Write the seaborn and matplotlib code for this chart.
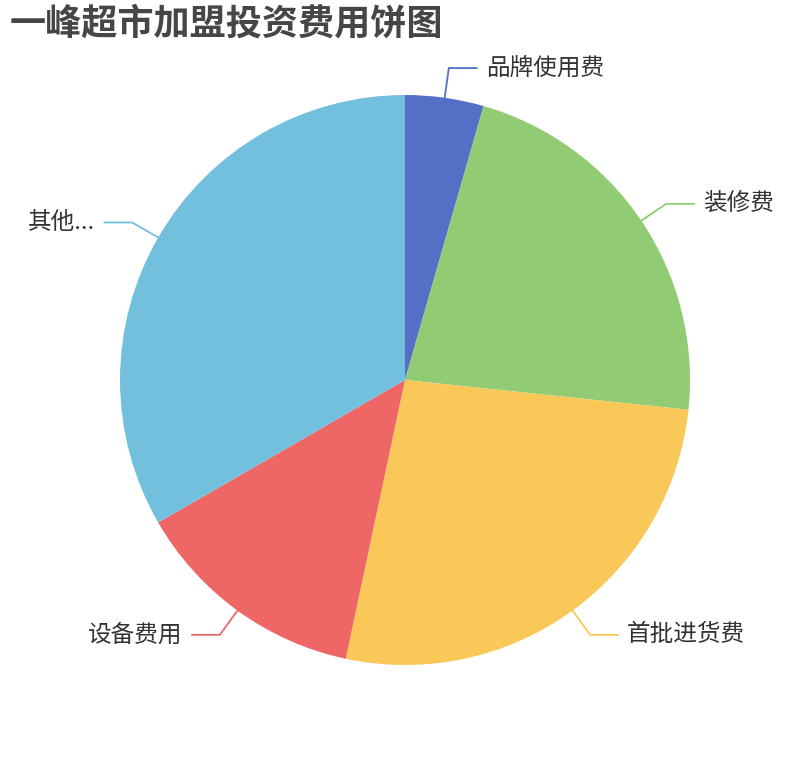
import numpy as np
import matplotlib
matplotlib.use("Agg")
import matplotlib.pyplot as plt
import seaborn as sns

categories = ["品牌使用费", "装修费", "首批进货费", "设备费用", "其他..."]
values = [2, 10, 12, 6, 15]
colours = ["#5470c6", "#91cc75", "#fac858", "#ee6666", "#73c0de"]

sns.set_theme(style="white")
plt.rcParams["font.family"] = ["Noto Sans CJK SC", "DejaVu Sans"]

W, H = 810, 760
fig = plt.figure(figsize=(W / 100, H / 100), dpi=100)
ax = fig.add_axes([0, 0, 1, 1])

cx, cy, r = 405, H - 380, 285
wedges, _ = ax.pie(values, colors=colours, startangle=90, counterclock=False,
                   radius=r, center=(cx, cy), frame=True,
                   wedgeprops=dict(linewidth=0))
ax.set_xlim(0, W)
ax.set_ylim(0, H)
ax.set_aspect("equal")
ax.axis("off")

# label guide lines: radial leg then horizontal leg, like echarts
len1, len2, gap = 30, 28, 9
for w, lab, col in zip(wedges, categories, colours):
    ang = np.deg2rad((w.theta1 + w.theta2) / 2)
    dx, dy = np.cos(ang), np.sin(ang)
    x0, y0 = cx + r * dx, cy + r * dy
    x1, y1 = cx + (r + len1) * dx, cy + (r + len1) * dy
    sgn = 1 if dx >= 0 else -1
    x2 = x1 + sgn * len2
    ax.plot([x0, x1, x2], [y0, y1, y1], color=col, lw=1.3, solid_joinstyle="miter")
    ax.text(x2 + sgn * gap, y1, lab, ha="left" if sgn > 0 else "right",
            va="center", fontsize=17, color="#333333")

fig.text(10 / W, 1 - 24 / H, "一峰超市加盟投资费用饼图", fontsize=26,
         fontweight="bold", color="#464646", ha="left", va="center")

fig.savefig("out.png", dpi=100, facecolor="white")
